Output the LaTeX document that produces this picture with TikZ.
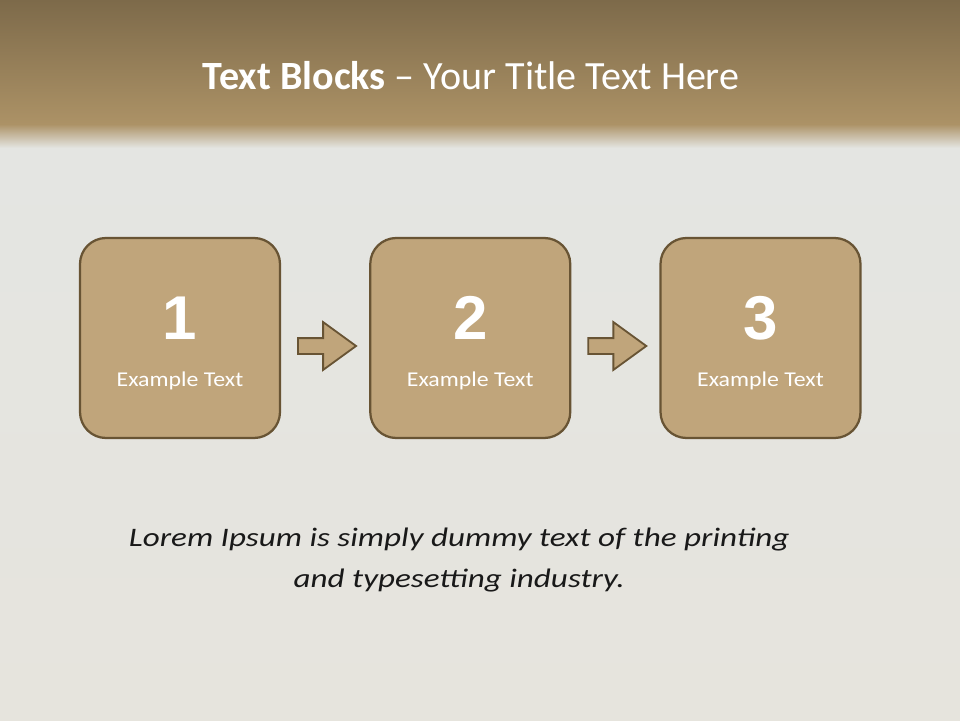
\documentclass[tikz,border=0pt]{standalone}
\usepackage{fontspec}
\setmainfont{Carlito}
\newfontfamily\numfont{Liberation Sans}
\newfontfamily\widefont[FakeStretch=1.13]{Carlito}
\newfontfamily\capfont[FakeStretch=1.24]{Carlito}
\usetikzlibrary{positioning}
\usetikzlibrary{calc}
\usetikzlibrary{shapes.arrows}
\definecolor{HeadTop}{RGB}{125,106,74}
\definecolor{HeadBot}{RGB}{172,146,102}
\definecolor{PaperTop}{RGB}{228,229,226}
\definecolor{PaperBot}{RGB}{230,228,221}
\definecolor{BoxFill}{RGB}{192,165,123}
\definecolor{BoxEdge}{RGB}{104,84,52}
\tikzset{
	block/.style={draw=BoxEdge, line width=1.6pt, fill=BoxFill, rounded corners=0.65cm,
		minimum width=5cm, minimum height=5cm, inner sep=0pt},
	num/.style={text=white, font=\numfont\bfseries\fontsize{44}{50}\selectfont, inner sep=0pt},
	lab/.style={text=white, font=\widefont\fontsize{15}{18}\selectfont, inner sep=0pt},
	stepar/.style={shape=single arrow, draw=BoxEdge, line width=1.3pt, fill=BoxFill,
		inner xsep=0pt, inner ysep=0.175cm, minimum height=1.45cm, anchor=west,
		single arrow head extend=0.4cm, single arrow tip angle=72}
}

\begin{document}
\begin{tikzpicture}[node distance=2.2cm]
		% background and header band
		\useasboundingbox (0,0) rectangle (24,18);
		\shade[top color=PaperTop, bottom color=PaperBot] (0,0) rectangle (24,14.3);
		\shade[top color=HeadBot, bottom color=PaperTop] (0,14.3) rectangle (24,14.9);
		\shade[top color=HeadTop, bottom color=HeadBot] (0,14.9) rectangle (24,18);
		\node[text=white, font=\fontsize{28.5}{33}\selectfont] (title) at (11.78,16.1)
		{\textbf{Text Blocks} -- Your Title Text Here};
		% the three blocks
		\node[block] (b1) at (4.5,9.55) {};
		\node[block, right=of b1] (b2) {};
		\node[block, right=of b2] (b3) {};
		\node[num] (n1) at ([yshift=0.5cm]b1.center) {1};
		\node[num] (n2) at ([yshift=0.5cm]b2.center) {2};
		\node[num] (n3) at ([yshift=0.5cm]b3.center) {3};
		\node[lab] (l1) at ([yshift=-1.07cm]b1.center) {Example Text};
		\node[lab] (l2) at ([yshift=-1.07cm]b2.center) {Example Text};
		\node[lab] (l3) at ([yshift=-1.07cm]b3.center) {Example Text};
		\node[stepar] (a1) at ($(b1.east)+(0.4,-0.2)$) {};
		\node[stepar] (a2) at ($(b2.east)+(0.4,-0.2)$) {};
		% caption
		\node[align=center, text=black!90, font=\capfont\itshape\fontsize{19}{28.5}\selectfont] (cap) at (11.48,4.0)
		{Lorem Ipsum is simply dummy text of the printing\\ and typesetting industry.};
	\end{tikzpicture}
\end{document}
